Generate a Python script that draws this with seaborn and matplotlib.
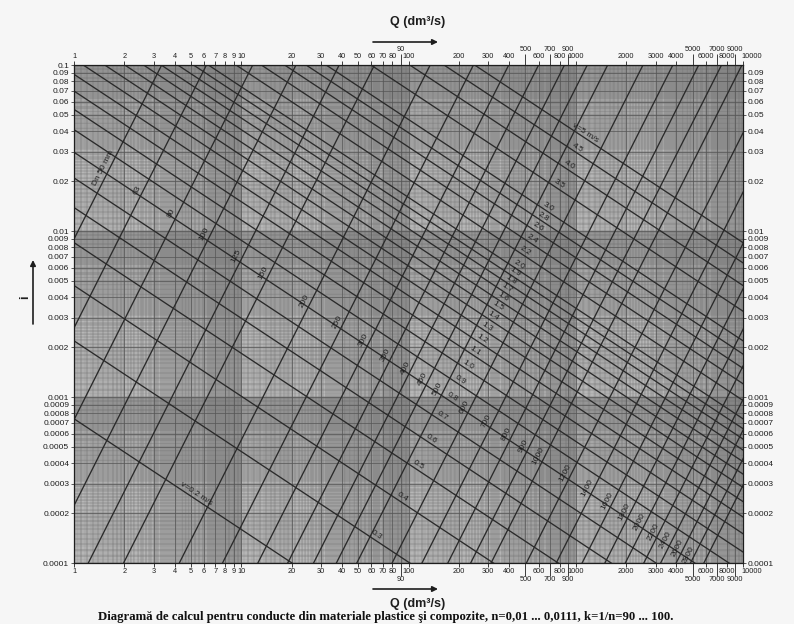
import numpy as np
import pandas as pd
import seaborn as sns
import matplotlib.pyplot as plt
from matplotlib.transforms import ScaledTranslation

# Manning nomogram for full plastic pipes, k = 1/n
k_manning = 100.0
diameters_mm = [50, 63, 80, 100, 125, 150, 200, 250, 300, 350, 400, 450, 500,
                600, 700, 800, 900, 1000, 1200, 1400, 1600, 1800, 2000, 2200,
                2400, 2600, 2800, 3000]
velocities = [0.2, 0.3, 0.4, 0.5, 0.6, 0.7, 0.8, 0.9, 1.0, 1.1, 1.2, 1.3, 1.4,
              1.5, 1.6, 1.7, 1.8, 1.9, 2.0, 2.2, 2.4, 2.6, 2.8, 3.0, 3.5, 4.0,
              4.5, 5.0]
q_ticks_main = [1, 2, 3, 4, 5, 6, 7, 8, 9, 10, 20, 30, 40, 50, 60, 70, 80, 100,
                200, 300, 400, 600, 800, 1000, 2000, 3000, 4000, 6000, 8000, 10000]
q_ticks_shifted = [90, 500, 700, 900, 5000, 7000, 9000]
i_ticks = [0.0001, 0.0002, 0.0003, 0.0004, 0.0005, 0.0006, 0.0007, 0.0008, 0.0009,
           0.001, 0.002, 0.003, 0.004, 0.005, 0.006, 0.007, 0.008, 0.009,
           0.01, 0.02, 0.03, 0.04, 0.05, 0.06, 0.07, 0.08, 0.09, 0.1]
title = ("Diagramă de calcul pentru conducte din materiale plastice şi compozite, "
         "n=0,01 ... 0,0111, k=1/n=90 ... 100.")

sns.set_style("white")
plt.rcParams["font.family"] = ["Liberation Sans", "DejaVu Sans"]
ink = "#1e1e1e"


def q_full(d, i):
    # dm3/s for diameter d (m) and slope i
    return 1000 * k_manning * np.pi * d**2 / 4 * (d / 4) ** (2 / 3) * np.sqrt(i)


def i_for_v(v, d):
    return (v / (k_manning * (d / 4) ** (2 / 3))) ** 2


rows = []
for dmm in diameters_mm:
    d = dmm / 1000
    for i in (1e-6, 1.0):
        rows.append(("D%d" % dmm, q_full(d, i), i))
for v in velocities:
    for d in (0.005, 20.0):
        rows.append(("v%.1f" % v, 1000 * v * np.pi * d**2 / 4, i_for_v(v, d)))
df = pd.DataFrame(rows, columns=["line", "Q", "i"])

fig = plt.figure(figsize=(7.94, 6.24), dpi=100, facecolor="#f6f6f6")
ax = fig.add_axes([74 / 794, 1 - 563 / 624, 669 / 794, 498 / 624])
ax.set_facecolor("#c8c8c8")
ax.set_xscale("log")
ax.set_yscale("log")
ax.set_xlim(1, 10000)
ax.set_ylim(0.0001, 0.1)

# log graph paper
def paper(e_lo, e_hi):
    fine, mid, major = [], [], []
    for e in range(e_lo, e_hi):
        b = 10.0 ** e
        fine += list(np.r_[np.arange(1, 2, 0.02), np.arange(2, 5, 0.05),
                           np.arange(5, 10, 0.1)] * b)
        mid += list(np.arange(1, 10, 0.1) * b)
        major += list(np.arange(1, 10) * b)
    return fine, mid, major

fx, mx, Mx = paper(0, 4)
fy, my, My = paper(-4, -1)
ax.vlines(fx, 1e-4, 0.1, colors="#888888", lw=0.2, zorder=0)
ax.hlines(fy, 1, 1e4, colors="#888888", lw=0.2, zorder=0)
ax.vlines(mx, 1e-4, 0.1, colors="#707070", lw=0.3, zorder=0)
ax.hlines(my, 1, 1e4, colors="#707070", lw=0.3, zorder=0)
ax.vlines(Mx, 1e-4, 0.1, colors="#555555", lw=0.5, zorder=0)
ax.hlines(My, 1, 1e4, colors="#555555", lw=0.5, zorder=0)

sns.lineplot(data=df, x="Q", y="i", units="line", estimator=None, sort=False,
             color="#2a2a2a", lw=0.95, ax=ax, legend=False)
ax.set_xlim(1, 10000)
ax.set_ylim(0.0001, 0.1)
ax.set_xlabel("")
ax.set_ylabel("")
for s in ax.spines.values():
    s.set_color(ink)
    s.set_linewidth(0.9)


def angle(p, q):
    a = ax.transData.transform(p)
    b = ax.transData.transform(q)
    return np.degrees(np.arctan2(b[1] - a[1], b[0] - a[0]))

# diameter labels along v = 0.82 m/s
for n, dmm in enumerate(diameters_mm):
    d = dmm / 1000
    qx = 1000 * 0.82 * np.pi * d**2 / 4
    iy = i_for_v(0.82, d)
    rot = angle((q_full(d, 1e-4), 1e-4), (q_full(d, 1e-2), 1e-2))
    txt = "Dn %d mm" % dmm if n == 0 else str(dmm)
    ax.annotate(txt, (qx, iy), xytext=(-3.8, 1.9), textcoords="offset points",
                rotation=rot, ha="center", va="center", fontsize=6,
                color=ink, rotation_mode="anchor")

# velocity labels along D = 530 mm
for v in velocities:
    if v == 0.2:
        qx = 5.2
    elif v == 0.3:
        qx = 62
    else:
        qx = 1000 * v * np.pi * 0.53**2 / 4
    d = np.sqrt(4 * qx / 1000 / (np.pi * v))
    iy = i_for_v(v, d)
    rot = angle((1000 * v * np.pi * 0.1**2 / 4, i_for_v(v, 0.1)),
                (1000 * v * np.pi * 1.0**2 / 4, i_for_v(v, 1.0)))
    if v in (0.2, 5.0):
        txt = "v=%g m/s" % v
    else:
        txt = "%.1f" % v
    ax.annotate(txt, (qx, iy), xytext=(1.8, 2.7), textcoords="offset points",
                rotation=rot, ha="center", va="center", fontsize=6,
                color=ink, rotation_mode="anchor")

# ticks
def fmt_q(v):
    return "%d" % v

def fmt_i(v):
    dec = int(-np.floor(np.log10(v) + 1e-9))
    return "%.*f" % (dec, v)

ax.set_xticks(q_ticks_main)
ax.set_xticklabels([fmt_q(v) for v in q_ticks_main])
ax.xaxis.set_minor_locator(plt.NullLocator())
ax.set_yticks(i_ticks)
ax.set_yticklabels([fmt_i(v) for v in i_ticks])
ax.yaxis.set_minor_locator(plt.NullLocator())
ax.tick_params(axis="x", which="major", top=True, labeltop=True, bottom=True,
               labelbottom=True, length=3, width=0.6, pad=0.5, labelsize=5.3,
               direction="out", colors=ink)
ax.tick_params(axis="y", which="major", left=True, length=2, width=0.5,
               pad=1.5, labelsize=6, direction="out", colors=ink)

# the 10000 labels sit a little to the right, as on the original sheet
shift = ScaledTranslation(6 / 72, 0, fig.dpi_scale_trans)
last = ax.xaxis.get_major_ticks()[-1]
for lab in (last.label1, last.label2):
    lab.set_transform(lab.get_transform() + shift)

axr = ax.twinx()
axr.set_yscale("log")
axr.set_ylim(0.0001, 0.1)
axr.set_yticks(i_ticks[:-1])
axr.set_yticklabels([fmt_i(v) for v in i_ticks[:-1]])
axr.yaxis.set_minor_locator(plt.NullLocator())
axr.tick_params(axis="y", length=2, width=0.5, pad=1.5, labelsize=6,
                colors=ink)
axr.spines[:].set_visible(False)

for loc, tl in (("top", 8), ("bottom", 9)):
    sec = ax.secondary_xaxis(loc)
    sec.set_xticks(q_ticks_shifted)
    sec.set_xticklabels([fmt_q(v) for v in q_ticks_shifted])
    sec.xaxis.set_minor_locator(plt.NullLocator())
    sec.tick_params(length=tl, width=0.6, pad=0.5, labelsize=5.3, colors=ink)
    sec.spines[loc].set_visible(False)

# axis captions and arrows
fig.text(418 / 794, 1 - 22 / 624, "Q (dm³/s)", ha="center", va="center",
         fontsize=9, fontweight="bold", color=ink)
fig.text(418 / 794, 1 - 604 / 624, "Q (dm³/s)", ha="center", va="center",
         fontsize=9, fontweight="bold", color=ink)
for yy in (42, 589):
    ax.annotate("", xy=(438, 624 - yy), xytext=(373, 624 - yy),
                xycoords="figure pixels", textcoords="figure pixels",
                arrowprops=dict(arrowstyle="-|>", color=ink, lw=1.2,
                                mutation_scale=8, shrinkA=0, shrinkB=0))
ax.annotate("", xy=(33, 624 - 260), xytext=(33, 624 - 324),
            xycoords="figure pixels", textcoords="figure pixels",
            arrowprops=dict(arrowstyle="-|>", color=ink, lw=1.2,
                            mutation_scale=8, shrinkA=0, shrinkB=0))
fig.text(25 / 794, 1 - 297 / 624, "i", rotation=90, ha="center", va="center",
         fontsize=9, fontweight="bold", color=ink)

fig.text(386 / 794, 1 - 617 / 624, title, ha="center", va="center",
         fontsize=9.2, fontweight="bold", color="#111111",
         family=["Liberation Serif", "DejaVu Serif"])

fig.savefig("out.png", dpi=100, facecolor=fig.get_facecolor())
